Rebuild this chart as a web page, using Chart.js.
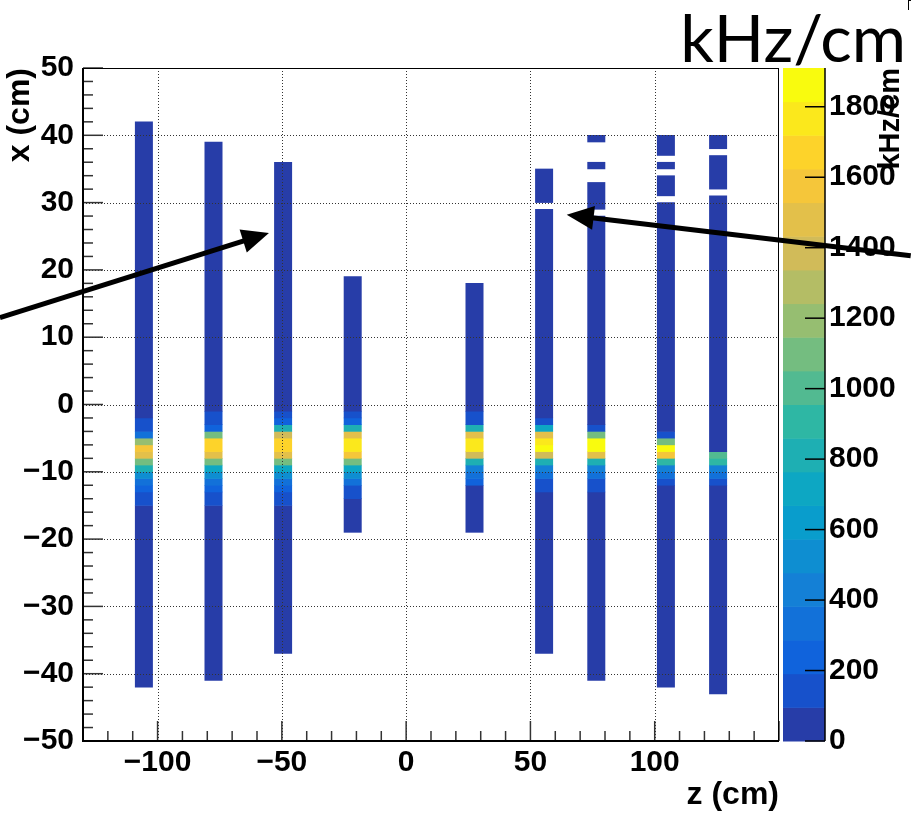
<!DOCTYPE html>
<html>
<head>
<meta charset="utf-8">
<script src="https://cdn.jsdelivr.net/npm/chart.js@4"></script>
<style>
  html, body { margin: 0; padding: 0; background: #fff; }
  #wrap { width: 911px; height: 816px; }
</style>
</head>
<body>
<div id="wrap"><canvas id="rateMap" width="911" height="816"></canvas></div>
<script>
// binning of the histogram (cm)
const binW = 7;
const binH = 1;
const zMax = 1910;     // top of the colour scale (kHz/cm)
const nBands = 20;     // colour contours

// strip centres along z (cm)
const stripZ = [-105.5, -77.5, -49.5, -21.5, 27.5, 55.5, 76.5, 104.5, 125.5];

// filled x ranges of each strip (cm), empty bins are left out
const stripRanges = [
  [[-42, 42]],
  [[-41, 39]],
  [[-37, 36]],
  [[-19, 19]],
  [[-19, 18]],
  [[-37, 29], [30, 35]],
  [[-41, 28], [29, 33], [35, 36], [39, 40]],
  [[-42, 30], [31, 34], [35, 36], [37, 40]],
  [[-43, 31], [32, 37], [38, 40]]
];

// rate outside the hot region (kHz/cm)
const baseRate = [50, 50, 50, 50, 50, 50, 50, 50, 50];

// rate in the 1 cm bins going down from x = 0 (kHz/cm)
const coreRates = [
  [50, 50, 140, 140, 330, 1190, 1570, 1480, 1100, 810, 520, 330, 240, 140, 140, 50],
  [50, 140, 140, 240, 1100, 1670, 1670, 1480, 1100, 760, 520, 330, 240, 140, 140, 50],
  [50, 140, 240, 810, 1380, 1670, 1670, 1480, 1100, 760, 520, 330, 240, 140, 140, 50],
  [50, 140, 240, 810, 1480, 1770, 1770, 1570, 1100, 670, 480, 330, 140, 140, 50, 50],
  [50, 140, 140, 810, 1480, 1770, 1770, 1380, 810, 430, 330, 240, 50, 50, 50, 50],
  [50, 50, 140, 670, 1480, 1720, 1860, 1380, 810, 430, 330, 140, 140, 50, 50, 50],
  [50, 50, 50, 140, 1100, 1860, 1860, 1480, 810, 430, 330, 140, 140, 50, 50, 50],
  [50, 50, 50, 50, 140, 1100, 1860, 1620, 910, 430, 330, 140, 50, 50, 50, 50],
  [50, 50, 50, 50, 50, 50, 50, 1000, 910, 430, 330, 140, 50, 50, 50, 50]
];

// axes
const xTicks = [-100, -50, 0, 50, 100];
const yTicks = [-50, -40, -30, -20, -10, 0, 10, 20, 30, 40, 50];
const zTicks = [0, 200, 400, 600, 800, 1000, 1200, 1400, 1600, 1800];

// arrows, [z, x] in cm
const arrowFrom = [[-163.4, 12.9], [203, 22.1]];
const arrowTo = [[-55.2, 25.5], [64.6, 28.2]];

// kBird palette
const birdStops = [0, 0.125, 0.25, 0.375, 0.5, 0.625, 0.75, 0.875, 1];
const birdR = [0.2082, 0.0592, 0.0780, 0.0232, 0.1802, 0.5301, 0.8186, 0.9956, 0.9764];
const birdG = [0.1664, 0.3599, 0.5041, 0.6419, 0.7178, 0.7492, 0.7328, 0.7862, 0.9832];
const birdB = [0.5293, 0.8684, 0.8385, 0.7914, 0.6425, 0.4662, 0.3499, 0.1968, 0.0539];

function bird(t) {
  let i = 0;
  while (i < birdStops.length - 2 && t > birdStops[i + 1]) i++;
  const f = (t - birdStops[i]) / (birdStops[i + 1] - birdStops[i]);
  const mix = arr => Math.round(255 * (arr[i] + f * (arr[i + 1] - arr[i])));
  return 'rgb(' + mix(birdR) + ',' + mix(birdG) + ',' + mix(birdB) + ')';
}

function bandOf(v) {
  return Math.min(nBands - 1, Math.floor(v / zMax * nBands));
}

function bandColour(b) {
  return bird(Math.floor((b + 0.99) * 255 / nBands) / 254);
}

// build the floating bars, one per run of equal colour
const cells = [];
const cellColours = [];
stripZ.forEach((z, s) => {
  stripRanges[s].forEach(([lo, hi]) => {
    let runStart = lo, runBand = null;
    for (let b = lo; b < hi; b += binH) {
      const k = -b - 1;
      const rate = (k >= 0 && k < coreRates[s].length) ? coreRates[s][k] : baseRate[s];
      const band = bandOf(rate);
      if (runBand === null) {
        runBand = band;
        runStart = b;
      } else if (band !== runBand) {
        cells.push({ x: z, y: [runStart, b] });
        cellColours.push(bandColour(runBand));
        runBand = band;
        runStart = b;
      }
    }
    cells.push({ x: z, y: [runStart, hi] });
    cellColours.push(bandColour(runBand));
  });
});

const minGap = Math.min(...stripZ.slice(1).map((z, i) => z - stripZ[i]));

const fmt = v => (v < 0 ? '\u2212' + Math.abs(v) : String(v));
const labelFont = { family: '"Liberation Sans", Arial, sans-serif', weight: 'bold', size: 30 };
const titleFont = { family: '"Liberation Sans", Arial, sans-serif', weight: 'bold', size: 32 };

function drawArrow(ctx, x0, y0, x1, y1) {
  const ang = Math.atan2(y1 - y0, x1 - x0);
  const c = Math.cos(ang), s = Math.sin(ang);
  const headLen = 27, headHalf = 12;
  const bx = x1 - headLen * c, by = y1 - headLen * s;
  ctx.strokeStyle = '#000';
  ctx.fillStyle = '#000';
  ctx.lineWidth = 5;
  ctx.beginPath();
  ctx.moveTo(x0, y0);
  ctx.lineTo(bx + 4 * c, by + 4 * s);
  ctx.stroke();
  ctx.beginPath();
  ctx.moveTo(x1, y1);
  ctx.lineTo(bx - headHalf * s, by + headHalf * c);
  ctx.lineTo(bx + headHalf * s, by - headHalf * c);
  ctx.closePath();
  ctx.fill();
}

const rootFrame = {
  id: 'rootFrame',
  afterDatasetsDraw(chart) {
    const { ctx, chartArea: a, scales: { x, y } } = chart;
    ctx.save();
    // dotted grid on top of the cells
    ctx.strokeStyle = '#333';
    ctx.lineWidth = 1;
    ctx.setLineDash([1, 2]);
    xTicks.forEach(v => {
      const px = Math.round(x.getPixelForValue(v)) + 0.5;
      ctx.beginPath();
      ctx.moveTo(px, a.top);
      ctx.lineTo(px, a.bottom);
      ctx.stroke();
    });
    yTicks.slice(1, -1).forEach(v => {
      const py = Math.round(y.getPixelForValue(v)) + 0.5;
      ctx.beginPath();
      ctx.moveTo(a.left, py);
      ctx.lineTo(a.right, py);
      ctx.stroke();
    });
    ctx.setLineDash([]);

    // ticks inside the frame
    ctx.strokeStyle = '#333';
    ctx.lineWidth = 1.5;
    for (let v = -50; v <= 50; v += 2) {
      const py = y.getPixelForValue(v);
      const len = v % 10 === 0 ? 20 : 10;
      ctx.beginPath();
      ctx.moveTo(a.left, py);
      ctx.lineTo(a.left + len, py);
      ctx.stroke();
    }
    for (let v = -130; v <= 150; v += 10) {
      const px = x.getPixelForValue(v);
      const len = v % 50 === 0 ? 20 : 10;
      ctx.beginPath();
      ctx.moveTo(px, a.bottom);
      ctx.lineTo(px, a.bottom - len);
      ctx.stroke();
    }

    // frame
    ctx.strokeStyle = '#000';
    ctx.lineWidth = 1;
    ctx.strokeRect(a.left + 0.5, a.top + 0.5, a.width - 1, a.height - 1);
    ctx.lineWidth = 2;
    ctx.beginPath();
    ctx.moveTo(a.left, a.top);
    ctx.lineTo(a.left, a.bottom);
    ctx.lineTo(a.right, a.bottom);
    ctx.stroke();
    ctx.restore();
  },
  afterDraw(chart) {
    const { ctx, scales: { x, y, zc } } = chart;
    ctx.save();

    // colour bar
    const barL = 783, barR = 825;
    for (let i = 0; i < nBands; i++) {
      const y0 = zc.getPixelForValue(i * zMax / nBands);
      const y1 = zc.getPixelForValue((i + 1) * zMax / nBands);
      ctx.fillStyle = bandColour(i);
      ctx.fillRect(barL, y1, barR - barL, y0 - y1 + 0.5);
    }
    ctx.strokeStyle = '#000';
    ctx.lineWidth = 1.5;
    ctx.beginPath();
    ctx.moveTo(barR, zc.getPixelForValue(zMax));
    ctx.lineTo(barR, zc.getPixelForValue(0));
    ctx.stroke();
    zTicks.forEach(v => {
      const py = zc.getPixelForValue(v);
      ctx.beginPath();
      ctx.moveTo(barR - 20, py);
      ctx.lineTo(barR, py);
      ctx.stroke();
    });

    // colour axis title
    ctx.fillStyle = '#000';
    ctx.font = 'bold 29px "Liberation Sans", Arial, sans-serif';
    ctx.translate(891, 68);
    ctx.rotate(-Math.PI / 2);
    ctx.textAlign = 'right';
    ctx.textBaseline = 'middle';
    ctx.fillText('kHz/cm', 0, 0);
    ctx.setTransform(1, 0, 0, 1, 0, 0);

    // big unit label at the top
    ctx.font = '66px Lato, "Open Sans", sans-serif';
    ctx.textAlign = 'right';
    ctx.textBaseline = 'alphabetic';
    ctx.fillText('kHz/cm', 906, 62);

    // corner mark
    ctx.lineWidth = 1;
    ctx.beginPath();
    ctx.moveTo(908.5, 0);
    ctx.lineTo(908.5, 10);
    ctx.moveTo(908.5, 0.5);
    ctx.lineTo(911, 0.5);
    ctx.stroke();

    // arrows
    arrowFrom.forEach((p, i) => {
      const q = arrowTo[i];
      drawArrow(ctx, x.getPixelForValue(p[0]), y.getPixelForValue(p[1]),
        x.getPixelForValue(q[0]), y.getPixelForValue(q[1]));
    });
    ctx.restore();
  }
};

new Chart(document.getElementById('rateMap'), {
  type: 'bar',
  data: {
    datasets: [{
      data: cells,
      backgroundColor: cellColours,
      borderWidth: 0,
      inflateAmount: 0.3,
      barPercentage: binW / minGap,
      categoryPercentage: 1
    }]
  },
  options: {
    responsive: false,
    animation: false,
    devicePixelRatio: 1,
    events: [],
    layout: { padding: { top: 67, left: 0, right: 0, bottom: 0 } },
    plugins: { legend: { display: false }, tooltip: { enabled: false } },
    scales: {
      x: {
        type: 'linear',
        min: -130,
        max: 150,
        offset: false,
        grid: { display: false, drawTicks: false },
        border: { display: false },
        afterBuildTicks: s => { s.ticks = xTicks.map(v => ({ value: v })); },
        ticks: { font: labelFont, color: '#000', padding: 4, autoSkip: false, maxRotation: 0, callback: fmt },
        title: { display: true, text: 'z (cm)', align: 'end', font: titleFont, color: '#000', padding: { top: 0, bottom: 2 } },
        afterFit: s => { s.height = 75; }
      },
      y: {
        type: 'linear',
        min: -50,
        max: 50,
        grid: { display: false, drawTicks: false },
        border: { display: false },
        afterBuildTicks: s => { s.ticks = yTicks.map(v => ({ value: v })); },
        ticks: { font: labelFont, color: '#000', padding: 9, autoSkip: false, callback: fmt },
        title: { display: true, text: 'x (cm)', align: 'end', font: titleFont, color: '#000', padding: { top: 1, bottom: 0 } },
        afterFit: s => { s.width = 83; }
      },
      zc: {
        type: 'linear',
        axis: 'y',
        position: 'right',
        min: 0,
        max: zMax,
        grid: { display: false, drawTicks: false },
        border: { display: false },
        afterBuildTicks: s => { s.ticks = zTicks.map(v => ({ value: v })); },
        ticks: { font: labelFont, color: '#000', padding: 50, autoSkip: false, callback: v => String(v) },
        afterFit: s => { s.width = 132; }
      }
    }
  },
  plugins: [rootFrame]
});
</script>
</body>
</html>
